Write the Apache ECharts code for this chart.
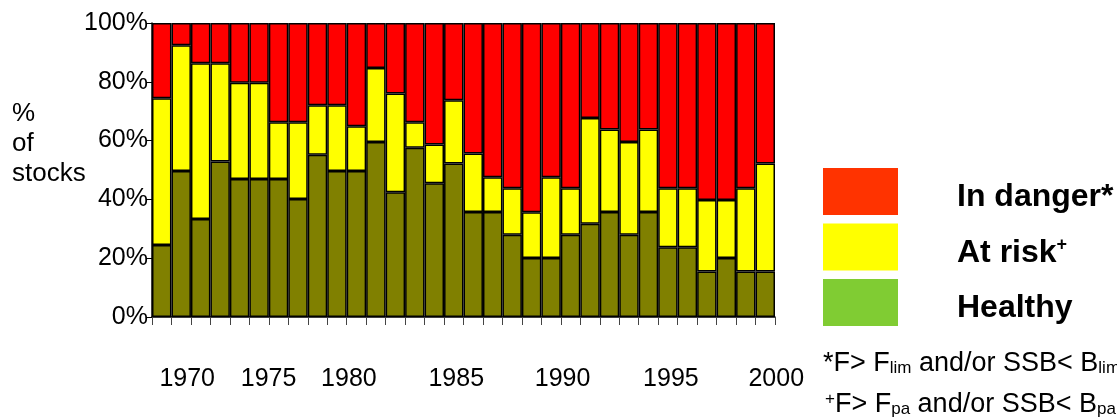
<!DOCTYPE html>
<html>
<head>
<meta charset="utf-8">
<script src="https://cdn.jsdelivr.net/npm/echarts@6/dist/echarts.min.js"></script>
<style>
  html, body { margin: 0; padding: 0; background: #fff; }
  #main { width: 1117px; height: 418px; }
</style>
</head>
<body>
<div id="main"></div>
<script>
const years = ['1969', '1970', '1971', '1972', '1973', '1974', '1975', '1976', '1977', '1978',
  '1979', '1980', '1981', '1982', '1983', '1984', '1985', '1986', '1987', '1988', '1989',
  '1990', '1991', '1992', '1993', '1994', '1995', '1996', '1997', '1998', '1999', '2000']
const yearLabels = ['1970', '1975', '1980', '1985', '1990', '1995', '2000']
const yTicks = [0, 20, 40, 60, 80, 100]

// percent of stocks per year
const healthy = [24.5, 49.7, 33.3, 52.9, 46.9, 46.9, 46.9, 40.1, 55.2, 49.7, 49.7, 59.5, 42.4, 57.6, 45.5, 52.2,
  35.7, 35.7, 28.0, 20.1, 20.1, 28.0, 31.7, 35.7, 28.0, 35.7, 23.7, 23.7, 15.5, 20.1, 15.5, 15.5]
const atRisk = [49.9, 42.7, 53.0, 33.4, 32.8, 32.8, 19.3, 26.1, 16.8, 22.3, 15.2, 25.2, 33.6, 8.6, 13.2, 21.5,
  19.9, 11.8, 15.8, 15.5, 27.4, 15.8, 36.0, 28.1, 31.5, 28.1, 20.1, 20.1, 24.3, 19.7, 28.3, 36.7]
const inDanger = [25.6, 7.6, 13.7, 13.7, 20.3, 20.3, 33.8, 33.8, 28.0, 28.0, 35.1, 15.3, 24.0, 33.8, 41.3, 26.3,
  44.4, 52.5, 56.2, 64.4, 52.5, 56.2, 32.3, 36.2, 40.5, 36.2, 56.2, 56.2, 60.2, 60.2, 56.2, 47.8]

const FONT = '"Liberation Sans", Arial, sans-serif'
// shift of the year labels (px), as they sit in the original figure
const labelShift = { '1970': 6, '1975': -10, '1980': -27, '1985': -17, '1990': -8, '1995': 3, '2000': 11 }

const yearRich = {}
yearLabels.forEach(y => {
  const d = labelShift[y] || 0
  yearRich['y' + y] = {
    fontSize: 25, fontFamily: FONT, color: '#000',
    padding: [0, d < 0 ? -2 * d : 0, 0, d > 0 ? 2 * d : 0]
  }
})

const barBorder = { borderColor: '#000', borderWidth: 1.5 }

const chart = echarts.init(document.getElementById('main'))
chart.setOption({
  animation: false,
  backgroundColor: '#fff',
  grid: { left: 152, right: 342, top: 23, bottom: 101, containLabel: false },
  xAxis: {
    type: 'category',
    data: years,
    boundaryGap: true,
    axisLine: { lineStyle: { color: '#000', width: 1.5 } },
    axisTick: { show: true, interval: 0, length: 8, lineStyle: { color: '#444', width: 1 } },
    axisLabel: {
      interval: (i, v) => yearLabels.indexOf(v) >= 0,
      margin: 50,
      formatter: v => '{y' + v + '|' + v + '}',
      rich: yearRich
    },
    splitLine: { show: false }
  },
  yAxis: {
    type: 'value',
    min: yTicks[0],
    max: yTicks[yTicks.length - 1],
    interval: 20,
    axisLine: { show: true, lineStyle: { color: '#000', width: 1.5 } },
    axisTick: { show: true, length: 6, lineStyle: { color: '#000' } },
    axisLabel: {
      formatter: '{value}%', fontSize: 25, fontFamily: FONT, color: '#000', margin: 4
    },
    splitLine: { show: false }
  },
  legend: {
    orient: 'vertical',
    left: 818,
    top: 163,
    itemWidth: 75,
    itemHeight: 47,
    itemGap: 8.5,
    icon: 'rect',
    selectedMode: false,
    itemStyle: { borderWidth: 0 },
    data: [
      { name: 'In danger', itemStyle: { color: '#FF3300', borderWidth: 0 } },
      { name: 'At risk', itemStyle: { color: '#FFFF00', borderWidth: 0 } },
      { name: 'Healthy', itemStyle: { color: '#80CC33', borderWidth: 0 } }
    ],
    formatter: name => {
      if (name === 'In danger') return '{b|In danger*}'
      if (name === 'At risk') return '{b|At risk}{s|+}'
      return '{b|Healthy}'
    },
    textStyle: {
      rich: {
        b: { fontSize: 32, fontWeight: 'bold', fontFamily: FONT, color: '#000', padding: [12, 0, 0, 54] },
        s: { fontSize: 18, fontWeight: 'bold', fontFamily: FONT, color: '#000', verticalAlign: 'top', padding: [11, 0, 0, 0] }
      }
    }
  },
  graphic: [
    {
      type: 'text', left: 12, top: 99,
      style: { text: '%\nof\nstocks', font: '26px ' + FONT, fill: '#000', lineHeight: 30 }
    },
    {
      type: 'text', left: 823, top: 350,
      style: {
        text: '{t|*F> F}{sub|lim}{t| and/or SSB< B}{sub|lim}',
        rich: {
          t: { fontSize: 27, fontFamily: FONT, fill: '#000', lineHeight: 30, verticalAlign: 'bottom' },
          sub: { fontSize: 17, fontFamily: FONT, fill: '#000', lineHeight: 17, verticalAlign: 'bottom' }
        }
      }
    },
    {
      type: 'text', left: 825, top: 388,
      style: {
        text: '{sup|+}{t|F> F}{sub|pa}{t| and/or SSB< B}{sub|pa}',
        rich: {
          t: { fontSize: 27, fontFamily: FONT, fill: '#000', lineHeight: 30, verticalAlign: 'bottom' },
          sub: { fontSize: 17, fontFamily: FONT, fill: '#000', lineHeight: 17, verticalAlign: 'bottom' },
          sup: { fontSize: 17, fontFamily: FONT, fill: '#000', lineHeight: 17, verticalAlign: 'top', padding: [3, 0, 0, 0] }
        }
      }
    }
  ],
  series: [
    {
      name: 'Healthy', type: 'bar', stack: 'all', data: healthy,
      barCategoryGap: 0, barGap: 0,
      itemStyle: Object.assign({ color: '#808000' }, barBorder)
    },
    {
      name: 'At risk', type: 'bar', stack: 'all', data: atRisk,
      barCategoryGap: 0, barGap: 0,
      itemStyle: Object.assign({ color: '#FFFF00' }, barBorder)
    },
    {
      name: 'In danger', type: 'bar', stack: 'all', data: inDanger,
      barCategoryGap: 0, barGap: 0,
      itemStyle: Object.assign({ color: '#FF0000' }, barBorder)
    }
  ]
})
</script>
</body>
</html>
